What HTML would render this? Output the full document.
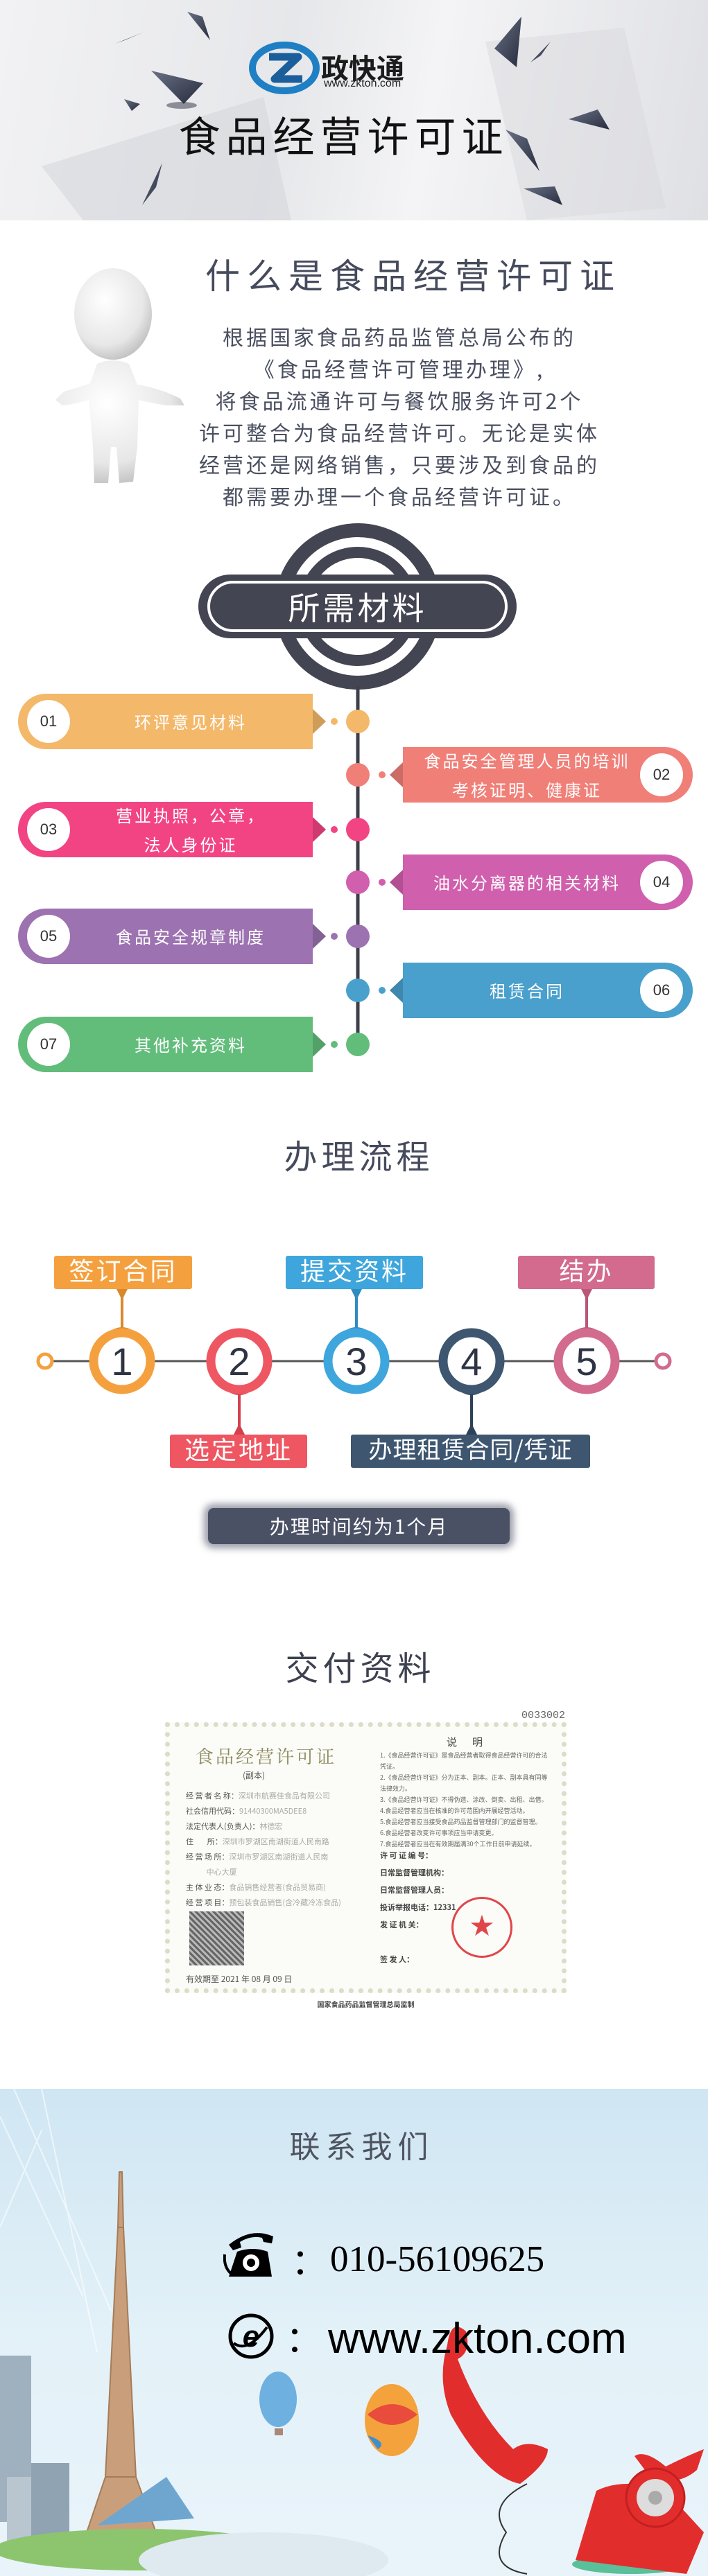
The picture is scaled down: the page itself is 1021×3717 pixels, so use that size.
<!DOCTYPE html>
<html><head><meta charset="utf-8">
<style>
*{margin:0;padding:0;box-sizing:border-box}
body{width:1021px;height:3717px;position:relative;background:#fff;overflow:hidden;font-family:"Liberation Sans","Noto Sans CJK SC",sans-serif}
.a{position:absolute}
.t{position:absolute;white-space:nowrap;text-align:center}
.cj{font-family:"Noto Sans CJK SC","WenQuanYi Zen Hei",sans-serif}
</style></head><body>

<!-- HEADER -->
<div class="a" style="left:0;top:0;width:1021px;height:318px;background:linear-gradient(100deg,#f2f2f4 0%,#e6e7ea 40%,#f4f4f6 60%,#dfe0e4 100%)"></div>
<svg class="a" style="left:0;top:0" width="1021" height="318">
<defs><linearGradient id="sh" x1="0" y1="0" x2="1" y2="1"><stop offset="0" stop-color="#6a7186"/><stop offset="1" stop-color="#262c3c"/></linearGradient></defs>
<polygon points="60,240 380,140 420,318 120,318" fill="#d6d7dc" opacity=".6"/>
<polygon points="700,60 900,40 960,300 760,318" fill="#d9dade" opacity=".5"/>
<polygon points="270,17 303,58 292,24" fill="url(#sh)"/>
<polygon points="166,63 208,46 180,58" fill="url(#sh)"/>
<polygon points="218,102 293,120 265,150" fill="url(#sh)"/>
<ellipse cx="262" cy="152" rx="22" ry="5" fill="#2a3040" opacity=".5"/>
<polygon points="179,143 202,150 190,160" fill="url(#sh)"/>
<polygon points="713,70 752,24 745,97" fill="url(#sh)"/>
<polygon points="765,90 794,60 780,80" fill="url(#sh)"/>
<polygon points="820,172 862,158 879,187" fill="url(#sh)"/>
<polygon points="729,187 760,200 778,247" fill="url(#sh)"/>
<polygon points="205,296 234,235 225,270" fill="url(#sh)"/>
<polygon points="755,272 800,269 811,296" fill="url(#sh)"/>
</svg>
<!-- logo -->
<svg class="a" style="left:358;top:60" width="106" height="76">
<ellipse cx="52" cy="38" rx="46" ry="33" fill="none" stroke="#1f7fc4" stroke-width="10"/>
<path d="M30 22 H72 L38 54 H78" fill="none" stroke="#1a5f9c" stroke-width="11" stroke-linejoin="round"/>
</svg>
<div class="t cj" style="left:463px;top:72px;font-size:40px;font-weight:700;color:#1c1c1c;line-height:48px">政快通</div>
<div class="t" style="left:467px;top:112px;font-size:16px;color:#222">www.zkton.com</div>
<div class="t cj" style="left:0;width:1021px;top:156px;font-size:60px;letter-spacing:8px;color:#111;line-height:76px;padding-left:0;text-indent:-30px">食品经营许可证</div>

<!-- WHAT -->
<div class="t cj" style="left:296px;top:360px;font-size:50px;letter-spacing:10px;color:#454a5c;line-height:70px">什么是食品经营许可证</div>
<svg class="a" style="left:80px;top:385px" width="200" height="325">
<defs><radialGradient id="wf" cx=".4" cy=".35" r=".7"><stop offset="0" stop-color="#ffffff"/><stop offset=".7" stop-color="#e7e7e7"/><stop offset="1" stop-color="#bdbdbd"/></radialGradient></defs>
<ellipse cx="83" cy="68" rx="56" ry="66" fill="url(#wf)"/>
<path d="M60 140 Q83 130 106 140 L118 170 Q150 175 180 190 L186 200 L160 200 Q130 195 120 192 L118 260 L112 310 L92 312 L88 260 L80 260 L76 312 L56 312 L54 260 L48 192 Q30 198 10 200 L0 192 L12 180 Q40 172 50 168 Z" fill="url(#wf)"/>
</svg>
<div class="t cj" style="left:250px;width:652px;top:462px;font-size:30px;letter-spacing:4px;line-height:46px;color:#4a4f60">根据国家食品药品监管总局公布的<br>《食品经营许可管理办理》,<br>将食品流通许可与餐饮服务许可2个<br>许可整合为食品经营许可。无论是实体<br>经营还是网络销售，只要涉及到食品的<br>都需要办理一个食品经营许可证。</div>

<!-- MATERIALS -->
<svg class="a" style="left:0;top:740px" width="1021" height="830">
<circle cx="516" cy="135" r="110" fill="none" stroke="#444552" stroke-width="20"/>
<circle cx="516" cy="135" r="78" fill="none" stroke="#444552" stroke-width="16"/>
<rect x="286" y="89" width="459" height="92" rx="46" fill="#444552"/>
<rect x="301" y="100" width="429" height="70" rx="35" fill="none" stroke="#fff" stroke-width="4"/>
<line x1="516" y1="250" x2="516" y2="767" stroke="#3d3f4a" stroke-width="5"/>
<g id="items"></g>
</svg>
<div class="t cj" style="left:286px;width:459px;top:843px;font-size:46px;color:#fff;letter-spacing:4px;line-height:64px">所需材料</div>

<!-- PROCESS -->
<div class="t cj" style="left:0;width:1021px;top:1630px;font-size:48px;letter-spacing:6px;color:#454a5c;line-height:70px;text-indent:14px">办理流程</div>
<svg class="a" style="left:0;top:1780px" width="1021" height="470">
<line x1="75" y1="184" x2="946" y2="184" stroke="#555" stroke-width="3"/>
<circle cx="65" cy="184" r="10" fill="#fff" stroke="#f5a03f" stroke-width="5"/>
<circle cx="956" cy="184" r="10" fill="#fff" stroke="#d26b8e" stroke-width="5"/>
<g stroke-width="4">
<line x1="176" y1="80" x2="176" y2="140" stroke="#d9882c"/>
<line x1="514" y1="80" x2="514" y2="140" stroke="#2f8cc0"/>
<line x1="846" y1="80" x2="846" y2="140" stroke="#b9567a"/>
<line x1="345" y1="228" x2="345" y2="290" stroke="#d4404e"/>
<line x1="680" y1="228" x2="680" y2="290" stroke="#2d4258"/>
</g>
<g>
<path d="M168 80 L184 80 L178 92 L174 92Z" fill="#d9882c"/><path d="M160 140 Q176 130 192 140Z" fill="#d9882c"/>
<path d="M506 80 L522 80 L516 92 L512 92Z" fill="#2f8cc0"/><path d="M498 140 Q514 130 530 140Z" fill="#2f8cc0"/>
<path d="M838 80 L854 80 L848 92 L844 92Z" fill="#b9567a"/><path d="M830 140 Q846 130 862 140Z" fill="#b9567a"/>
<path d="M329 228 Q345 238 361 228Z" fill="#d4404e"/><path d="M337 290 L353 290 L347 278 L343 278Z" fill="#d4404e"/>
<path d="M664 228 Q680 238 696 228Z" fill="#2d4258"/><path d="M672 290 L688 290 L682 278 L678 278Z" fill="#2d4258"/>
</g>
<g stroke-width="13" fill="#fff">
<circle cx="176" cy="184" r="41" stroke="#f5a03f"/>
<circle cx="345" cy="184" r="41" stroke="#ee5662"/>
<circle cx="514" cy="184" r="41" stroke="#3ea6dc"/>
<circle cx="680" cy="184" r="41" stroke="#3e5670"/>
<circle cx="846" cy="184" r="41" stroke="#d26b8e"/>
</g>
<g font-family="Liberation Sans,sans-serif" font-size="56" fill="#2f3444" text-anchor="middle">
<text x="176" y="204">1</text><text x="345" y="204">2</text><text x="514" y="204">3</text><text x="680" y="204">4</text><text x="846" y="204">5</text>
</g>
<rect x="78" y="32" width="199" height="48" rx="3" fill="#f5a03f"/>
<rect x="412" y="32" width="198" height="48" rx="3" fill="#3ea6dc"/>
<rect x="747" y="32" width="197" height="48" rx="3" fill="#d26b8e"/>
<rect x="245" y="290" width="198" height="48" rx="3" fill="#ee5662"/>
<rect x="506" y="290" width="345" height="48" rx="3" fill="#3e5670"/>
</svg>
<div class="t cj" style="left:78px;width:199px;top:1808px;font-size:36px;color:#fff;letter-spacing:3px;line-height:48px">签订合同</div>
<div class="t cj" style="left:412px;width:198px;top:1808px;font-size:36px;color:#fff;letter-spacing:3px;line-height:48px">提交资料</div>
<div class="t cj" style="left:747px;width:197px;top:1808px;font-size:36px;color:#fff;letter-spacing:3px;line-height:48px">结办</div>
<div class="t cj" style="left:245px;width:198px;top:2066px;font-size:36px;color:#fff;letter-spacing:3px;line-height:48px">选定地址</div>
<div class="t cj" style="left:506px;width:345px;top:2066px;font-size:34px;color:#fff;letter-spacing:1px;line-height:48px">办理租赁合同/凭证</div>
<div class="a" style="left:300px;top:2176px;width:435px;height:52px;background:#4b5165;border-radius:8px;box-shadow:0 0 10px 6px rgba(75,81,101,.55)"></div>
<div class="t cj" style="left:286px;width:463px;top:2178px;font-size:28px;color:#fff;letter-spacing:2px;line-height:48px">办理时间约为1个月</div>

<!-- DELIVERY -->
<div class="t cj" style="left:0;width:1021px;top:2368px;font-size:48px;letter-spacing:6px;color:#3d4150;line-height:70px;text-indent:18px">交付资料</div>
<div class="t" style="left:752px;top:2467px;font-size:15px;color:#666;font-family:'Liberation Mono',monospace">0033002</div>
<div class="a" style="left:238px;top:2485px;width:579px;height:391px;background:#fbfbf7;border:7px dotted #dcdcc8"></div>
<div class="t cj" style="left:282px;top:2515px;font-size:26px;color:#8b8a5c;letter-spacing:3px;font-family:'Noto Serif CJK SC',serif">食品经营许可证</div>
<div class="t cj" style="left:350px;top:2553px;font-size:12px;color:#555">(副本)</div>
<div class="t cj" style="left:644px;top:2503px;font-size:15px;color:#444;letter-spacing:22px">说明</div>
<div class="a cj" style="left:268px;top:2580px;width:276px;font-size:11px;line-height:22px;color:#555;white-space:pre">经 营 者 名 称：<span style="color:#aaa">深圳市航赛佳食品有限公司</span>
社会信用代码：<span style="color:#aaa">91440300MA5DEE8</span>
法定代表人(负责人)：<span style="color:#aaa">林德宏</span>
住        所：<span style="color:#aaa">深圳市罗湖区南湖街道人民南路</span>
经 营 场 所：<span style="color:#aaa">深圳市罗湖区南湖街道人民南</span>
<span style="color:#aaa">            中心大厦</span>
主 体 业 态：<span style="color:#aaa">食品销售经营者(食品贸易商)</span>
经 营 项 目：<span style="color:#aaa">预包装食品销售(含冷藏冷冻食品)</span></div>
<div class="a" style="left:273px;top:2758px;width:79px;height:78px;background:repeating-linear-gradient(45deg,#666 0 3px,#bbb 3px 6px),#888"></div>
<div class="t cj" style="left:268px;top:2847px;font-size:12px;color:#555">有效期至 2021 年 08 月 09 日</div>
<div class="a cj" style="left:548px;top:2525px;width:250px;font-size:9px;line-height:16px;color:#666">1.《食品经营许可证》是食品经营者取得食品经营许可的合法凭证。<br>2.《食品经营许可证》分为正本、副本。正本、副本具有同等法律效力。<br>3.《食品经营许可证》不得伪造、涂改、倒卖、出租、出借。<br>4.食品经营者应当在核准的许可范围内开展经营活动。<br>5.食品经营者应当接受食品药品监督管理部门的监督管理。<br>6.食品经营者改变许可事项应当申请变更。<br>7.食品经营者应当在有效期届满30个工作日前申请延续。</div>
<div class="a cj" style="left:548px;top:2665px;width:250px;font-size:11px;line-height:25px;color:#444;font-weight:700">许 可 证 编 号：<br>日常监督管理机构：<br>日常监督管理人员：<br>投诉举报电话：12331<br>发 证 机 关：<br><br>签  发  人：</div>
<div class="a" style="left:651px;top:2737px;width:88px;height:88px;border:3px solid #e0454a;border-radius:50%;color:#e0454a;font-size:34px;text-align:center;line-height:80px">★</div>
<div class="t cj" style="left:238px;width:579px;top:2884px;font-size:10px;color:#444;font-weight:700">国家食品药品监督管理总局监制</div>

<!-- CONTACT -->
<div class="a" style="left:0;top:3014px;width:1021px;height:703px;background:linear-gradient(180deg,#cfe6f3 0%,#e3f1f8 50%,#e9f4fa 100%)"></div>
<svg class="a" style="left:0;top:3014px" width="1021" height="703">
<g stroke="#fff" stroke-width="2" opacity=".6"><line x1="0" y1="40" x2="120" y2="300"/><line x1="20" y1="0" x2="160" y2="320"/><line x1="60" y1="0" x2="140" y2="380"/><line x1="0" y1="200" x2="60" y2="60"/></g>
<rect x="0" y="385" width="45" height="240" fill="#9fb0bf"/><rect x="10" y="560" width="35" height="110" fill="#b9c6d0"/>
<rect x="45" y="540" width="55" height="140" fill="#8fa3b3"/>
<path d="M152 560 L196 560 L225 640 L125 640 Z M170 200 L178 200 L196 560 L152 560 Z M172 120 L176 120 L178 200 L170 200Z" fill="#c99f7b" stroke="#a67c58" stroke-width="2"/>
<path d="M140 630 L240 560 L280 620 Z" fill="#6fa6d0"/>
<ellipse cx="200" cy="665" rx="210" ry="30" fill="#8cc56e"/>
<ellipse cx="380" cy="680" rx="180" ry="40" fill="#dfe9f0"/>
<ellipse cx="401" cy="448" rx="27" ry="40" fill="#6eb0e0"/><rect x="396" y="490" width="12" height="10" fill="#a87"/>
<ellipse cx="565" cy="478" rx="39" ry="52" fill="#f4a23b"/><path d="M530 470 Q565 440 602 470 Q565 500 530 470" fill="#e94b3c"/><path d="M530 500 Q560 510 545 520Z" fill="#3d8fd0"/>
<path d="M645 370 Q650 330 672 350 Q680 380 660 390 Q690 470 740 520 Q760 505 790 520 Q790 540 750 570 Q700 560 650 470 Q630 420 645 370Z" fill="#e22d2d"/>
<path d="M760 570 Q700 600 730 640 Q700 690 760 700" fill="none" stroke="#333" stroke-width="2"/>
<ellipse cx="910" cy="686" rx="85" ry="14" fill="#5bbf9a"/>
<path d="M830 680 L860 580 Q900 560 960 580 L1015 640 L990 700 Z" fill="#e22d2d"/>
<path d="M915 530 Q930 520 960 545 Q990 530 1015 520 L1005 550 Q970 580 930 550 Z" fill="#e22d2d"/>
<circle cx="945" cy="590" r="42" fill="#e22d2d" stroke="#c41f1f" stroke-width="3"/>
<circle cx="945" cy="590" r="27" fill="#ddd"/><circle cx="945" cy="590" r="10" fill="#aaa"/>
</svg>
<div class="t cj" style="left:0;width:1021px;top:3062px;font-size:44px;letter-spacing:8px;color:#4e5460;line-height:64px;text-indent:22px">联系我们</div>
<svg class="a" style="left:322px;top:3213px" width="74" height="76">
<path d="M8 26 Q40 0 72 14 L70 24 L58 22 L56 16 Q40 12 24 22 L26 30 L14 34 Z" fill="#000"/>
<path d="M20 36 Q42 28 64 36 L70 72 L8 72 Z" fill="#000"/>
<circle cx="40" cy="52" r="12" fill="#fff"/><circle cx="40" cy="52" r="6" fill="#000"/>
<path d="M2 40 Q0 60 14 70" fill="none" stroke="#000" stroke-width="4"/>
</svg>
<div class="t" style="left:420px;top:3228px;font-size:52px;color:#000;line-height:64px;font-family:'Noto Sans CJK SC',sans-serif">：</div>
<div class="t" style="left:476px;top:3228px;font-size:53px;color:#000;line-height:64px;font-family:'Liberation Serif',serif">010-56109625</div>
<svg class="a" style="left:327px;top:3336px" width="70" height="70">
<circle cx="35" cy="35" r="30" fill="none" stroke="#000" stroke-width="5"/>
<text x="35" y="50" text-anchor="middle" font-family="Liberation Sans,sans-serif" font-weight="700" font-style="italic" font-size="44" fill="#000">e</text>
<path d="M10 45 Q30 60 58 22" fill="none" stroke="#000" stroke-width="4"/>
</svg>
<div class="t" style="left:412px;top:3340px;font-size:52px;color:#000;line-height:64px;font-family:'Noto Sans CJK SC',sans-serif">：</div>
<div class="t" style="left:473px;top:3338px;font-size:62px;color:#000;line-height:74px;font-family:'Liberation Sans',sans-serif">www.zkton.com</div>

<script>
var items=[["01","环评意见材料",1041,"#f4b86a",0],["02","食品安全管理人员的培训<br>考核证明、健康证",1118,"#f07f78",1],["03","营业执照，公章，<br>法人身份证",1197,"#f24483",0],["04","油水分离器的相关材料",1273,"#d05fad",1],["05","食品安全规章制度",1351,"#9c72b0",0],["06","租赁合同",1429,"#4aa0cc",1],["07","其他补充资料",1507,"#62bd7b",0]];
var g=document.getElementById('items'),h='';
items.forEach(function(it){var y=it[2]-740,c=it[3];
if(!it[4]){h+='<path d="M66 '+(y-40)+' H451 V'+(y+40)+' H66 A40 40 0 0 1 66 '+(y-40)+'Z" fill="'+c+'"/>';
h+='<path d="M451 '+(y-18)+' L470 '+y+' L451 '+(y+18)+'Z" fill="'+c+'"/><path d="M451 '+(y-18)+' L470 '+y+' L451 '+(y+18)+'Z" fill="#000" opacity=".15"/>';
h+='<circle cx="482" cy="'+y+'" r="5" fill="'+c+'"/><circle cx="70" cy="'+y+'" r="31" fill="#fff"/>';}
else{h+='<path d="M581 '+(y-40)+' H959 A40 40 0 0 1 959 '+(y+40)+' H581Z" fill="'+c+'"/>';
h+='<path d="M581 '+(y-18)+' L562 '+y+' L581 '+(y+18)+'Z" fill="'+c+'"/><path d="M581 '+(y-18)+' L562 '+y+' L581 '+(y+18)+'Z" fill="#000" opacity=".15"/>';
h+='<circle cx="551" cy="'+y+'" r="5" fill="'+c+'"/><circle cx="954" cy="'+y+'" r="31" fill="#fff"/>';}
h+='<circle cx="516" cy="'+y+'" r="17" fill="'+c+'"/>';});
g.innerHTML=h;
items.forEach(function(it){var y=it[2],L=!it[4];
var d=document.createElement('div');d.className='t';d.style.cssText='left:'+(L?40:924)+'px;width:60px;top:'+(y-14)+'px;font-size:22px;color:#333;line-height:28px';d.textContent=it[0];document.body.appendChild(d);
var e=document.createElement('div');e.className='t cj';var two=it[1].indexOf('<br>')>0;
e.style.cssText='left:'+(L?110:600)+'px;width:'+(L?330:320)+'px;top:'+(y-(two?42:18))+'px;font-size:24px;color:#fff;letter-spacing:3px;line-height:'+(two?'42px':'36px');e.innerHTML=it[1];document.body.appendChild(e);});
</script>
</body></html>
